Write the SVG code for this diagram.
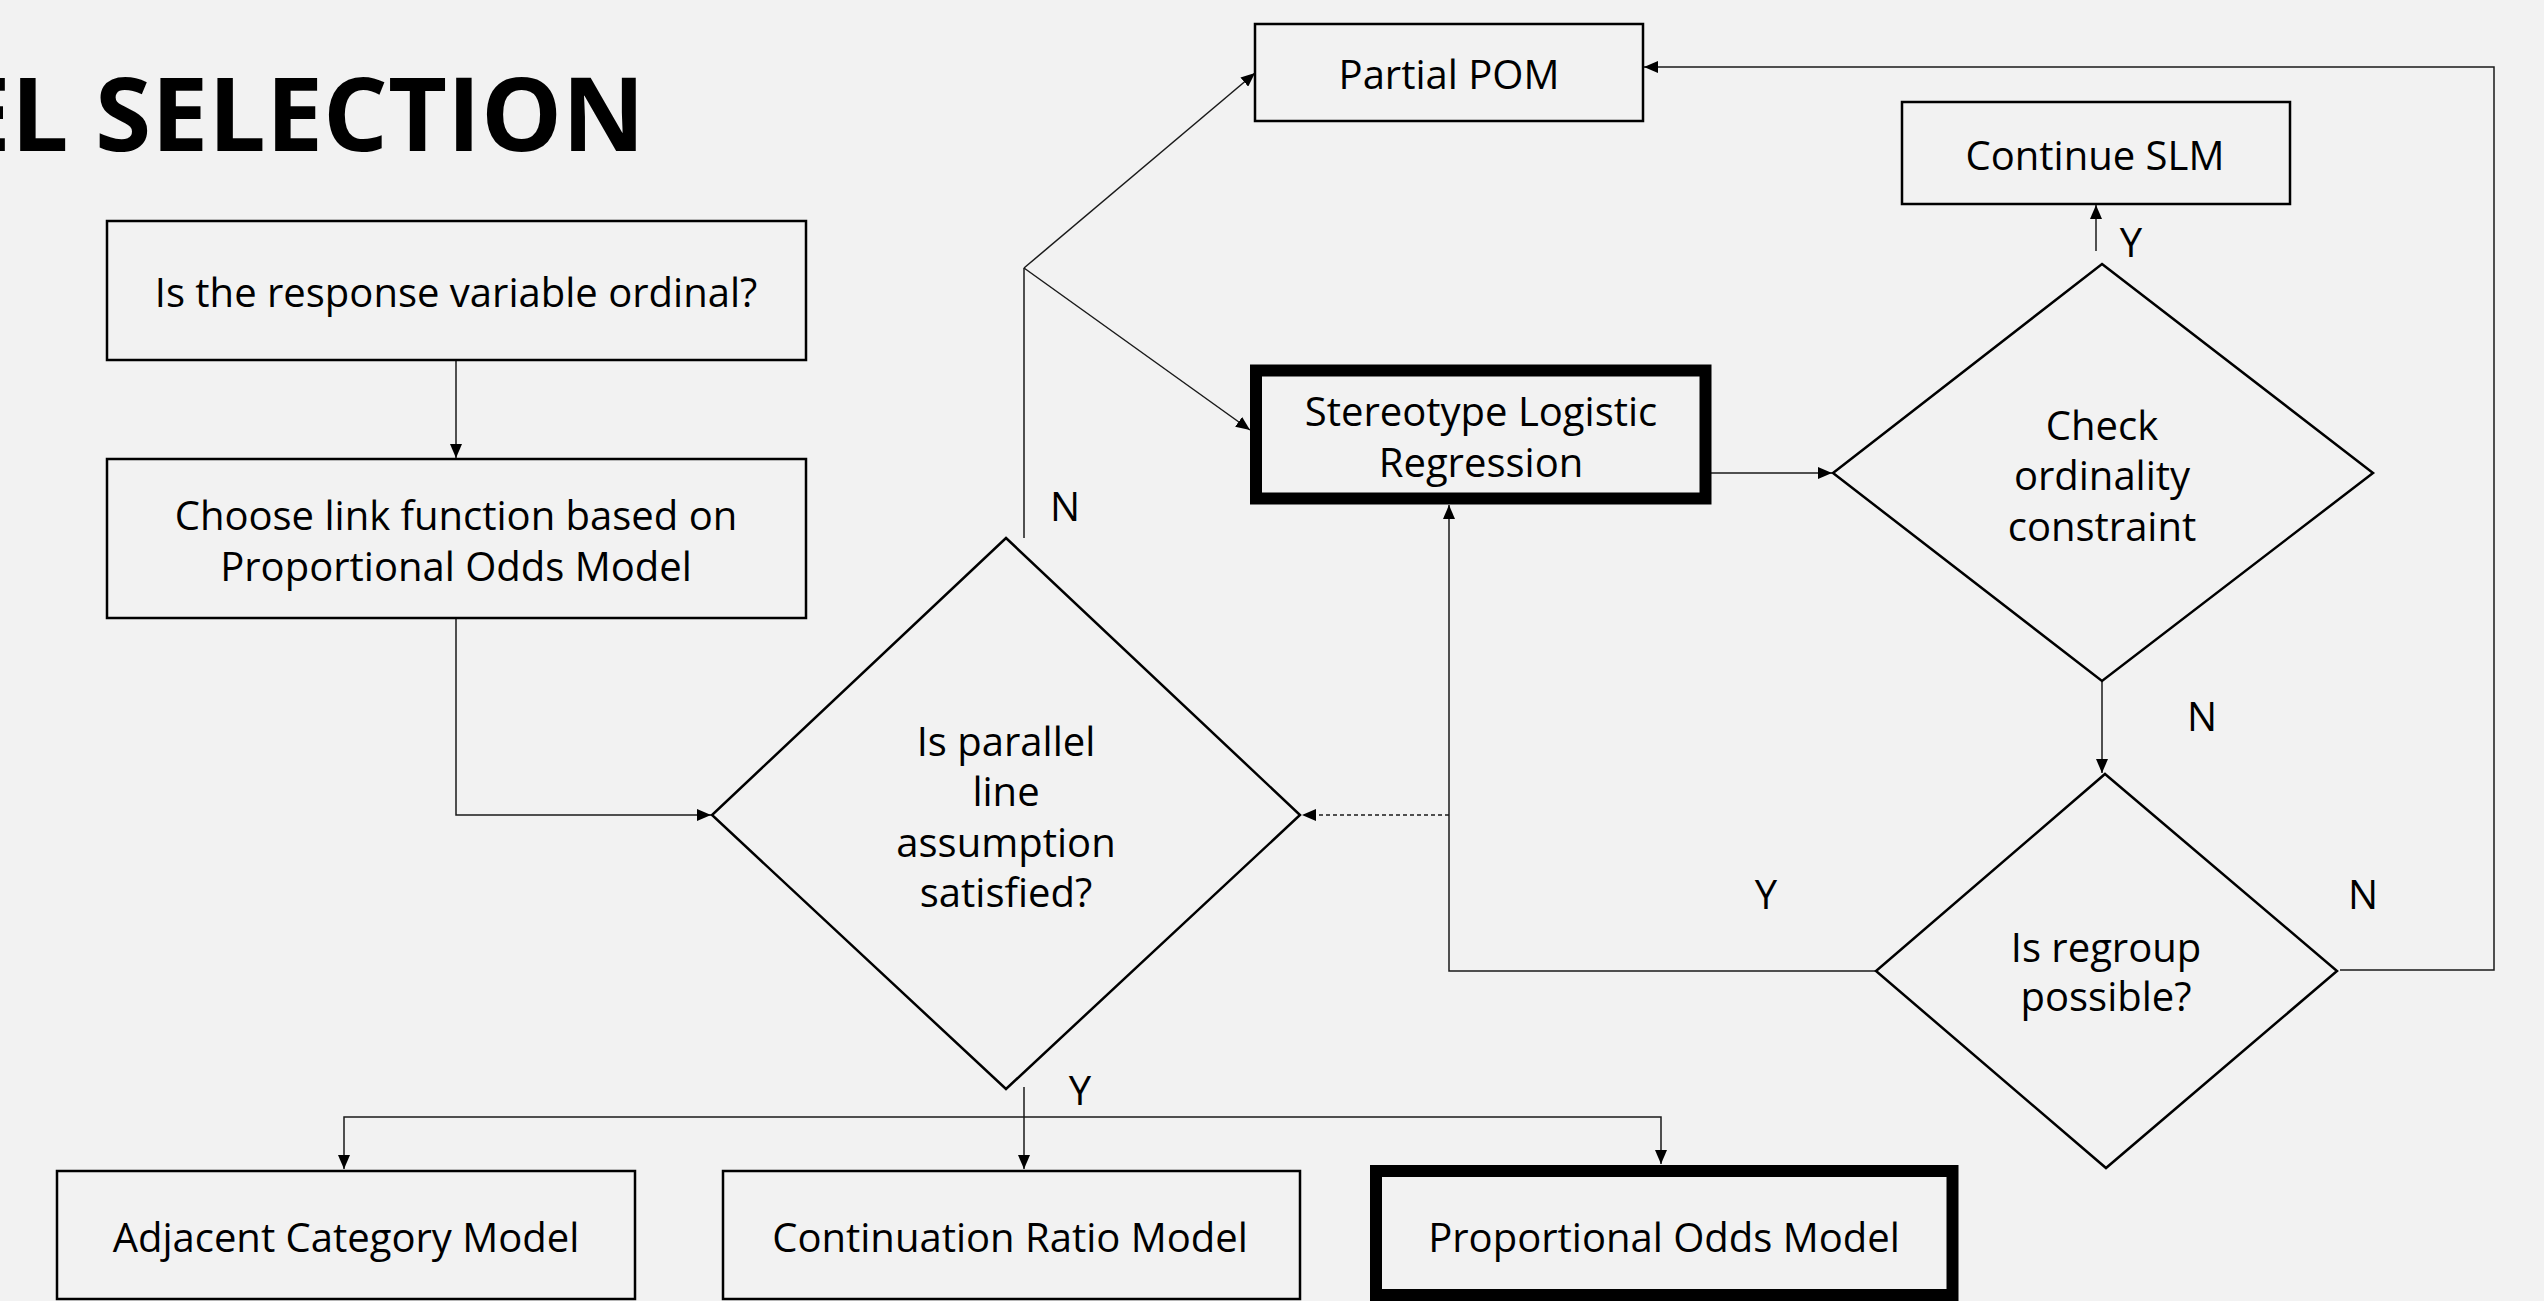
<svg xmlns="http://www.w3.org/2000/svg" width="2544" height="1301" viewBox="0 0 2544 1301">
<defs>
<style>
.bg{fill:#f2f2f2}
.box{fill:none;stroke:#000;stroke-width:2.5}
.thick{fill:none;stroke:#000;stroke-width:12}
.dia{fill:none;stroke:#000;stroke-width:2.5}
.t{font-family:"Open Sans","Noto Sans",sans-serif;font-size:40px;fill:#000;text-anchor:middle}
.title{font-family:"Open Sans","Noto Sans",sans-serif;font-size:102px;font-weight:bold;fill:#000;text-anchor:end}
.c{fill:none;stroke:#1a1a1a;stroke-width:1.5}
.d{fill:none;stroke:#1a1a1a;stroke-width:1.5;stroke-dasharray:4 3}
</style>
<marker id="arr" markerUnits="userSpaceOnUse" markerWidth="15" markerHeight="12" refX="14" refY="6" orient="auto">
<path d="M0,0 L14,6 L0,12 z" fill="#000"/>
</marker>
</defs>
<rect class="bg" x="0" y="0" width="2544" height="1301"/>
<text class="title" x="645" y="151">EL SELECTION</text>

<g id="connectors">
<path class="c" d="M456,360 L456,458" marker-end="url(#arr)"/>
<path class="c" d="M456,618 L456,815 L711,815" marker-end="url(#arr)"/>
<path class="c" d="M1024,538 L1024,268"/>
<path class="c" d="M1024,268 L1255,73" marker-end="url(#arr)"/>
<path class="c" d="M1024,268 L1250,430" marker-end="url(#arr)"/>
<path class="c" d="M1711,473 L1832,473" marker-end="url(#arr)"/>
<path class="c" d="M2096,251 L2096,205" marker-end="url(#arr)"/>
<path class="c" d="M2102,681 L2102,773" marker-end="url(#arr)"/>
<path class="c" d="M1876,971 L1449,971 L1449,505" marker-end="url(#arr)"/>
<path class="d" d="M1449,815 L1302,815" marker-end="url(#arr)"/>
<path class="c" d="M2340,970 L2494,970 L2494,67 L1644,67" marker-end="url(#arr)"/>
<path class="c" d="M1024,1087 L1024,1169" marker-end="url(#arr)"/>
<path class="c" d="M1024,1117 L344,1117 L344,1169" marker-end="url(#arr)"/>
<path class="c" d="M1024,1117 L1661,1117 L1661,1164" marker-end="url(#arr)"/>
</g>

<g id="n_ordinal">
<rect class="box" x="107" y="221" width="699" height="139"/>
<text class="t" x="456" y="307">Is the response variable ordinal?</text>
</g>
<g id="n_link">
<rect class="box" x="107" y="459" width="699" height="159"/>
<text class="t" x="456" y="530">Choose link function based on</text>
<text class="t" x="456" y="581">Proportional Odds Model</text>
</g>
<g id="n_parallel">
<polygon class="dia" points="1006,538 1300,815 1006,1089 712,815"/>
<text class="t" x="1006" y="756">Is parallel</text>
<text class="t" x="1006" y="806">line</text>
<text class="t" x="1006" y="857">assumption</text>
<text class="t" x="1006" y="907">satisfied?</text>
</g>
<g id="n_partial">
<rect class="box" x="1255" y="24" width="388" height="97"/>
<text class="t" x="1449" y="89">Partial POM</text>
</g>
<g id="n_slr">
<rect class="thick" x="1256" y="370.5" width="449.5" height="128"/>
<text class="t" x="1481" y="426">Stereotype Logistic</text>
<text class="t" x="1481" y="477">Regression</text>
</g>
<g id="n_continue">
<rect class="box" x="1902" y="102" width="388" height="102"/>
<text class="t" x="2095" y="170">Continue SLM</text>
</g>
<g id="n_check">
<polygon class="dia" points="2102,264 2373,473 2102,681 1833,473"/>
<text class="t" x="2102" y="440">Check</text>
<text class="t" x="2102" y="490">ordinality</text>
<text class="t" x="2102" y="541">constraint</text>
</g>
<g id="n_regroup">
<polygon class="dia" points="2105,774 2337,971 2106,1168 1876,971"/>
<text class="t" x="2106" y="962">Is regroup</text>
<text class="t" x="2106" y="1011">possible?</text>
</g>
<g id="n_adjacent">
<rect class="box" x="57" y="1171" width="578" height="128"/>
<text class="t" x="346" y="1252">Adjacent Category Model</text>
</g>
<g id="n_continuation">
<rect class="box" x="723" y="1171" width="577" height="128"/>
<text class="t" x="1010" y="1252">Continuation Ratio Model</text>
</g>
<g id="n_pom">
<rect class="thick" x="1376" y="1171" width="576.5" height="124"/>
<text class="t" x="1664" y="1252">Proportional Odds Model</text>
</g>

<g id="labels">
<text class="t" x="1065" y="521">N</text>
<text class="t" x="1080" y="1105">Y</text>
<text class="t" x="2131" y="257">Y</text>
<text class="t" x="2202" y="731">N</text>
<text class="t" x="1766" y="909">Y</text>
<text class="t" x="2363" y="909">N</text>
</g>
</svg>
